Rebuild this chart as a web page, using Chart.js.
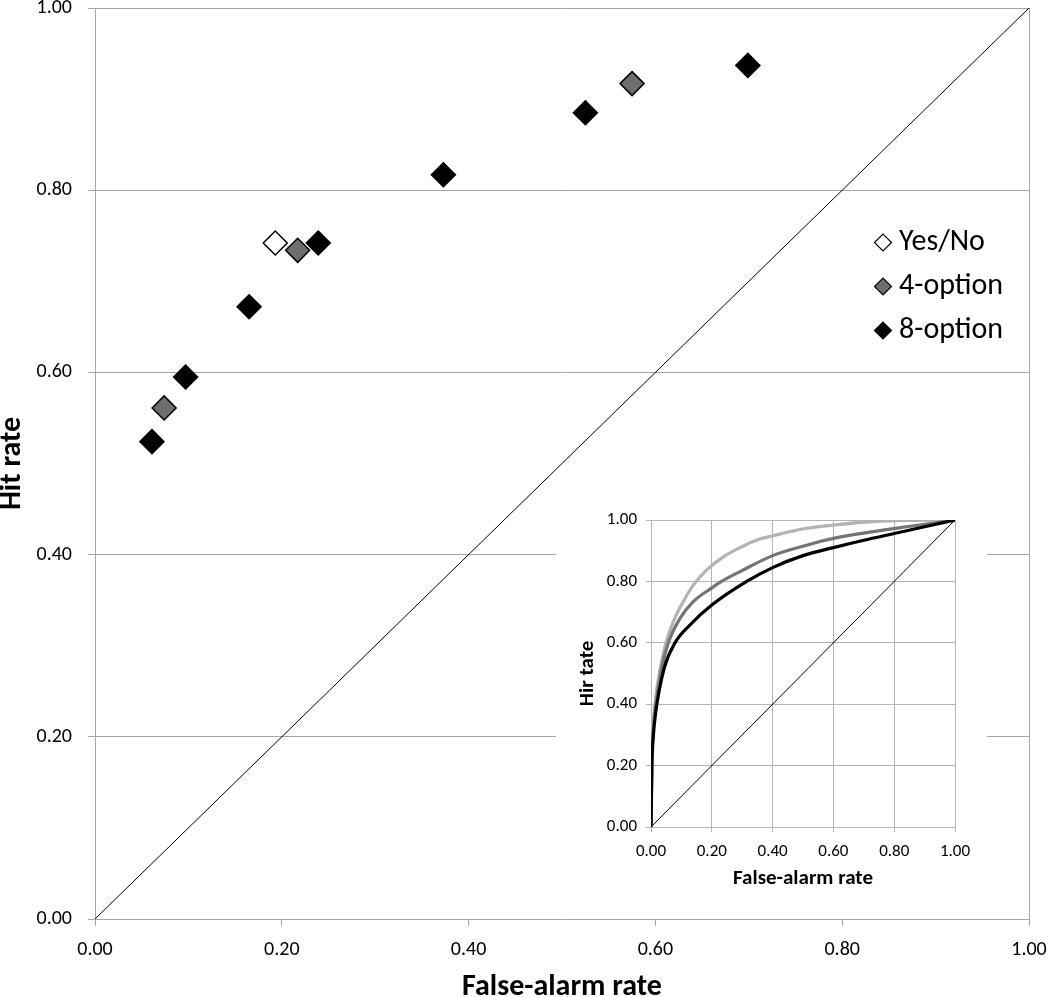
<!DOCTYPE html>
<html><head><meta charset="utf-8">
<script src="https://cdn.jsdelivr.net/npm/chart.js@4/dist/chart.umd.min.js"></script>
<style>
html,body{margin:0;padding:0;background:#fff;overflow:hidden;}
#wrap{position:relative;width:1050px;height:997px;}
#main{position:absolute;left:0;top:0;}
#insetBox{position:absolute;left:556px;top:500px;width:431px;height:400px;background:#fff;}
#inset{position:absolute;left:0;top:0;}
</style></head><body>
<div id="wrap">
<canvas id="main" width="1050" height="997"></canvas>
<div id="insetBox"><canvas id="inset" width="431" height="400"></canvas></div>
</div>
<script>
// ---------- data: main chart ----------
const tickLabels = ['0.00', '0.20', '0.40', '0.60', '0.80', '1.00'];
const seriesNames = ['Yes/No', '4-option', '8-option'];

const yesNoFA  = [0.193];
const yesNoHit = [0.742];

const opt4FA  = [0.074, 0.217, 0.575];
const opt4Hit = [0.561, 0.734, 0.917];

const opt8FA  = [0.061, 0.097, 0.165, 0.239, 0.373, 0.525, 0.699];
const opt8Hit = [0.524, 0.595, 0.672, 0.742, 0.817, 0.885, 0.937];

const diagFA  = [0, 1];
const diagHit = [0, 1];

// ---------- data: inset ROC curves ----------
const lightFA  = [0, 0.003, 0.008, 0.015, 0.03, 0.049, 0.073, 0.106, 0.139, 0.183, 0.238, 0.293, 0.348, 0.402, 0.512, 0.622, 0.731, 0.841, 1.0];
const lightHit = [0, 0.25, 0.35, 0.42, 0.516, 0.6, 0.668, 0.734, 0.788, 0.837, 0.88, 0.91, 0.935, 0.949, 0.973, 0.986, 0.995, 0.999, 1.0];

const midFA  = [0, 0.003, 0.008, 0.015, 0.035, 0.057, 0.095, 0.139, 0.2, 0.232, 0.293, 0.4, 0.512, 0.6, 0.731, 0.841, 1.0];
const midHit = [0, 0.22, 0.32, 0.39, 0.516, 0.6, 0.679, 0.734, 0.779, 0.8, 0.832, 0.884, 0.918, 0.94, 0.962, 0.978, 1.0];

const darkFA  = [0, 0.003, 0.008, 0.015, 0.043, 0.079, 0.128, 0.2, 0.315, 0.4, 0.5, 0.6, 0.7, 0.8, 0.9, 1.0];
const darkHit = [0, 0.2, 0.3, 0.37, 0.516, 0.6, 0.658, 0.723, 0.8, 0.845, 0.884, 0.910, 0.934, 0.956, 0.978, 1.0];

// ---------- helpers ----------
const FONT = 'Carlito, Lato, "Open Sans", sans-serif';
const GRID = '#a6a6a6';
const pts = (xs, ys) => xs.map((x, i) => ({x: x, y: ys[i]}));

const markerStyles = {
  'Yes/No':   {bg: '#ffffff', border: '#000000'},
  '4-option': {bg: '#6e6e6e', border: '#000000'},
  '8-option': {bg: '#000000', border: '#000000'}
};

const insideLegend = {
  id: 'insideLegend',
  afterDatasetsDraw(chart) {
    const ctx = chart.ctx;
    const cx = 883, tx = 899, y0 = 242.5, dy = 44;
    ctx.save();
    ctx.font = '30px ' + FONT;
    ctx.textBaseline = 'middle';
    ctx.textAlign = 'left';
    seriesNames.forEach((name, i) => {
      const st = markerStyles[name];
      ctx.fillStyle = st.bg;
      ctx.strokeStyle = st.border;
      ctx.lineWidth = 1.2;
      Chart.helpers.drawPoint(ctx, {pointStyle: 'rectRot', radius: 8.5, rotation: 0, borderWidth: 1.2}, cx, y0 + i * dy);
      ctx.fillStyle = '#000';
      ctx.fillText(name, tx, y0 + i * dy);
    });
    ctx.restore();
  }
};

function markerDataset(name, xs, ys, order) {
  const st = markerStyles[name];
  return {
    label: name,
    data: pts(xs, ys),
    pointStyle: 'rectRot',
    pointRadius: 12,
    pointHoverRadius: 12,
    backgroundColor: st.bg,
    borderColor: st.border,
    borderWidth: 1.5,
    showLine: false,
    order: order
  };
}

// ---------- main chart ----------
new Chart(document.getElementById('main'), {
  type: 'scatter',
  data: {
    datasets: [
      markerDataset('8-option', opt8FA, opt8Hit, 1),
      markerDataset('4-option', opt4FA, opt4Hit, 2),
      markerDataset('Yes/No', yesNoFA, yesNoHit, 3),
      {
        label: 'diagonal',
        data: pts(diagFA, diagHit),
        showLine: true,
        pointRadius: 0,
        borderColor: '#000',
        borderWidth: 1,
        order: 4
      }
    ]
  },
  options: {
    responsive: false,
    animation: false,
    events: [],
    layout: {autoPadding: false, padding: {left: 0, top: 8, right: 21, bottom: 0}},
    plugins: {legend: {display: false}, tooltip: {enabled: false}},
    scales: {
      x: {
        type: 'linear', min: 0, max: 1,
        afterFit(s) { s.height = 78; s.paddingLeft = 0; s.paddingRight = 0; },
        border: {display: true, color: GRID, width: 1},
        grid: {
          drawOnChartArea: true,
          color: c => (c.index === 5 ? GRID : 'rgba(0,0,0,0)'),
          tickColor: GRID, tickLength: 7, lineWidth: 1
        },
        ticks: {
          stepSize: 0.2, padding: 12, color: '#000',
          font: {family: FONT, size: 20},
          callback: (v, i) => tickLabels[i]
        },
        title: {
          display: true, text: 'False-alarm rate', color: '#000',
          font: {family: FONT, size: 30, weight: 'bold', lineHeight: 1},
          padding: {top: 0, bottom: -5}
        }
      },
      y: {
        type: 'linear', min: 0, max: 1,
        afterFit(s) { s.width = 95; s.paddingTop = 0; s.paddingBottom = 0; },
        border: {display: true, color: GRID, width: 1},
        grid: {color: GRID, tickColor: GRID, tickLength: 7, lineWidth: 1},
        ticks: {
          stepSize: 0.2, padding: 16, color: '#000',
          font: {family: FONT, size: 20, lineHeight: 0.6},
          callback: (v, i) => tickLabels[i]
        },
        title: {
          display: true, text: 'Hit rate', color: '#000',
          font: {family: FONT, size: 30, weight: 'bold', lineHeight: 1},
          padding: {top: -2.5, bottom: 0}
        }
      }
    }
  },
  plugins: [insideLegend]
});

// ---------- inset chart ----------
const IGRID = '#b4b4b4';
function curve(label, xs, ys, color, order) {
  return {
    label: label,
    data: pts(xs, ys),
    showLine: true,
    pointRadius: 0,
    borderColor: color,
    borderWidth: 3.2,
    cubicInterpolationMode: 'monotone',
    order: order
  };
}
new Chart(document.getElementById('inset'), {
  type: 'scatter',
  data: {
    datasets: [
      curve('8-option', darkFA, darkHit, '#000000', 1),
      curve('4-option', midFA, midHit, '#747474', 2),
      curve('Yes/No', lightFA, lightHit, '#b3b3b3', 3),
      {
        label: 'diagonal',
        data: pts(diagFA, diagHit),
        showLine: true, pointRadius: 0,
        borderColor: '#000', borderWidth: 1, order: 4
      }
    ]
  },
  options: {
    responsive: false,
    animation: false,
    events: [],
    layout: {autoPadding: false, padding: {left: 0, top: 20, right: 32, bottom: 0}},
    plugins: {legend: {display: false}, tooltip: {enabled: false}},
    scales: {
      x: {
        type: 'linear', min: 0, max: 1,
        afterFit(s) { s.height = 73; s.paddingLeft = 0; s.paddingRight = 0; },
        border: {display: true, color: IGRID, width: 1},
        grid: {color: IGRID, tickColor: IGRID, tickLength: 5, lineWidth: 1},
        ticks: {
          stepSize: 0.2, padding: 10, color: '#000',
          font: {family: FONT, size: 17},
          callback: (v, i) => tickLabels[i]
        },
        title: {
          display: true, text: 'False-alarm rate', color: '#000',
          font: {family: FONT, size: 21, weight: 'bold', lineHeight: 1},
          padding: {top: 0, bottom: 10.5}
        }
      },
      y: {
        type: 'linear', min: 0, max: 1,
        afterFit(s) { s.width = 95; s.paddingTop = 0; s.paddingBottom = 0; },
        border: {display: true, color: IGRID, width: 1},
        grid: {color: IGRID, tickColor: IGRID, tickLength: 5, lineWidth: 1},
        ticks: {
          stepSize: 0.2, padding: 9, color: '#000',
          font: {family: FONT, size: 17, lineHeight: 0.6},
          callback: (v, i) => tickLabels[i]
        },
        title: {
          display: true, text: 'Hir tate', color: '#000',
          font: {family: FONT, size: 21, weight: 'bold', lineHeight: 1},
          padding: {top: 21, bottom: 0}
        }
      }
    }
  }
});
</script>
</body></html>
